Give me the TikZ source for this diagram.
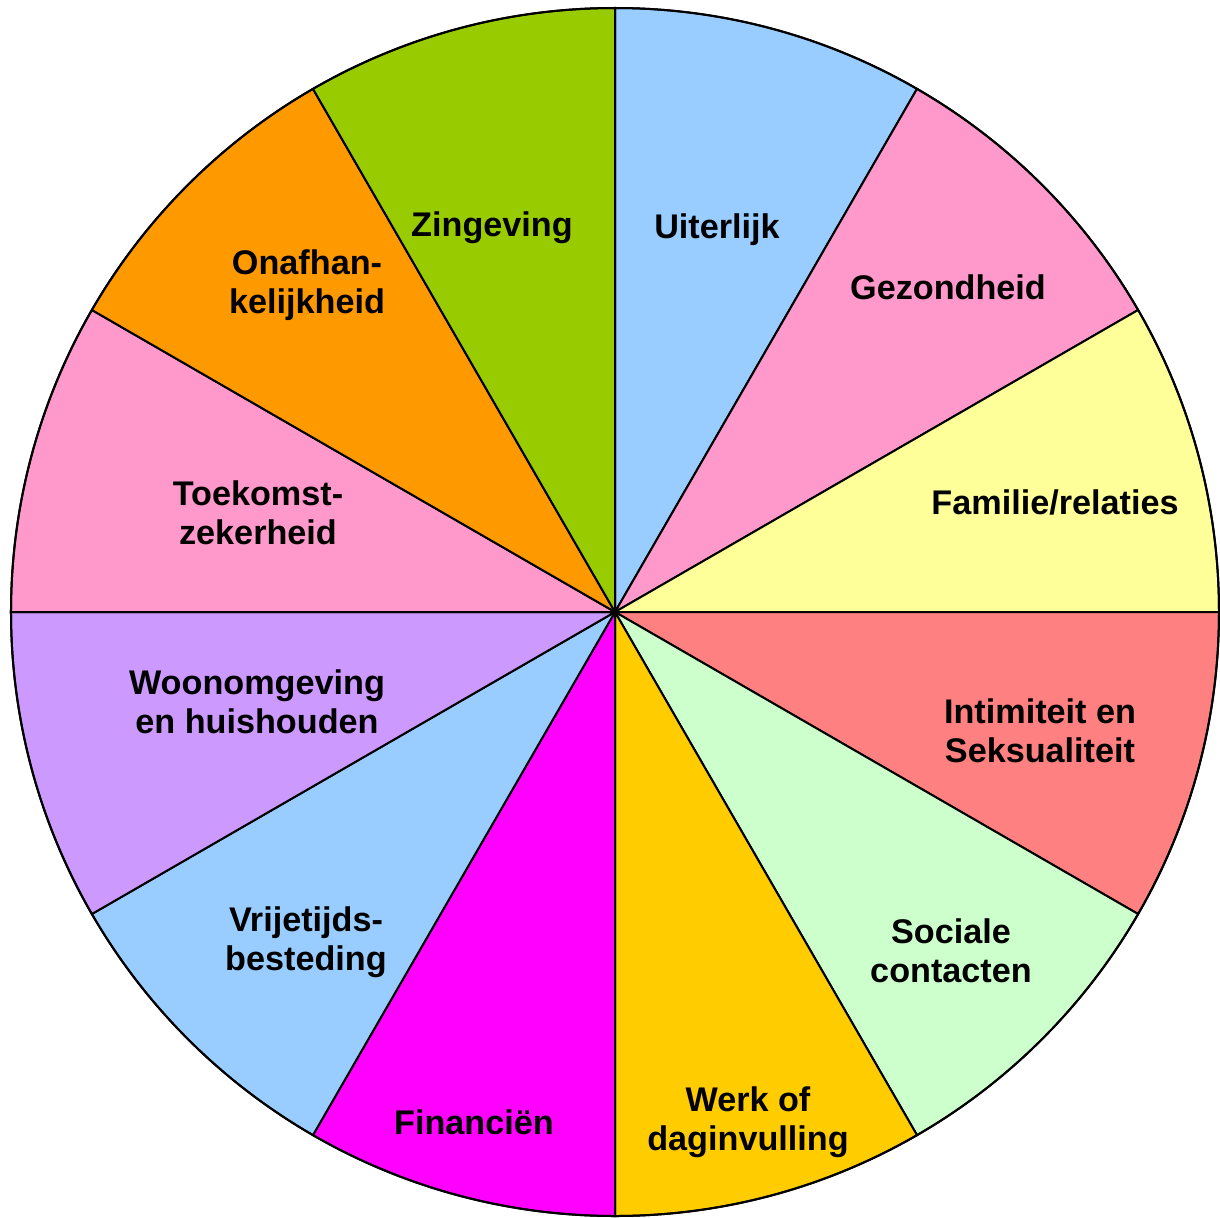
\documentclass[tikz,border=0pt]{standalone}
\usepackage{fontspec}
\setmainfont{Liberation Sans}
\definecolor{skyblue}{HTML}{99CCFF}
\definecolor{rosepink}{HTML}{FF99CC}
\definecolor{paleyellow}{HTML}{FFFF99}
\definecolor{salmon}{HTML}{FF8080}
\definecolor{palegreen}{HTML}{CCFFCC}
\definecolor{gold}{HTML}{FFCC00}
\definecolor{magenta}{HTML}{FF00FF}
\definecolor{lavender}{HTML}{CC99FF}
\definecolor{orange}{HTML}{FF9900}
\definecolor{olivegreen}{HTML}{99CC00}
\begin{document}
\begin{tikzpicture}
[x=0.5pt,y=0.5pt,line width=1pt,%
  every node/.style={font=\bfseries\fontsize{17.1}{19.5}\selectfont,align=center,inner sep=0pt,anchor=base}]
\useasboundingbox (-615,-605) rectangle (605,612);
\coordinate (hub) at (0,0);
\foreach \a/\col in {60/skyblue,30/rosepink,0/paleyellow,-30/salmon,-60/palegreen,-90/gold,
  -120/magenta,-150/skyblue,180/lavender,150/rosepink,120/orange,90/olivegreen}
  \filldraw[fill=\col,draw=black] (hub) -- (\a:604) arc[start angle=\a,delta angle=30,radius=604] -- cycle;
\draw (hub) circle[radius=604];
\node (uiterlijk) at (102,374) {Uiterlijk};
\node (gezondheid) at (333,313) {Gezondheid};
\node (familie) at (440,98) {Familie/relaties};
\node (intimiteit) at (425,-150) {Intimiteit en\\Seksualiteit};
\node (sociale) at (336,-370) {Sociale\\contacten};
\node (werk) at (133,-538) {Werk of\\daginvulling};
\node (financien) at (-141,-522) {Financiën};
\node (vrijetijd) at (-309,-358) {Vrijetijds-\\besteding};
\node (woon) at (-358,-121) {Woonomgeving\\en huishouden};
\node (toekomst) at (-357,68) {Toekomst-\\zekerheid};
\node (onafhan) at (-308,299) {Onafhan-\\kelijkheid};
\node (zingeving) at (-123,376) {Zingeving};
\end{tikzpicture}
\end{document}
